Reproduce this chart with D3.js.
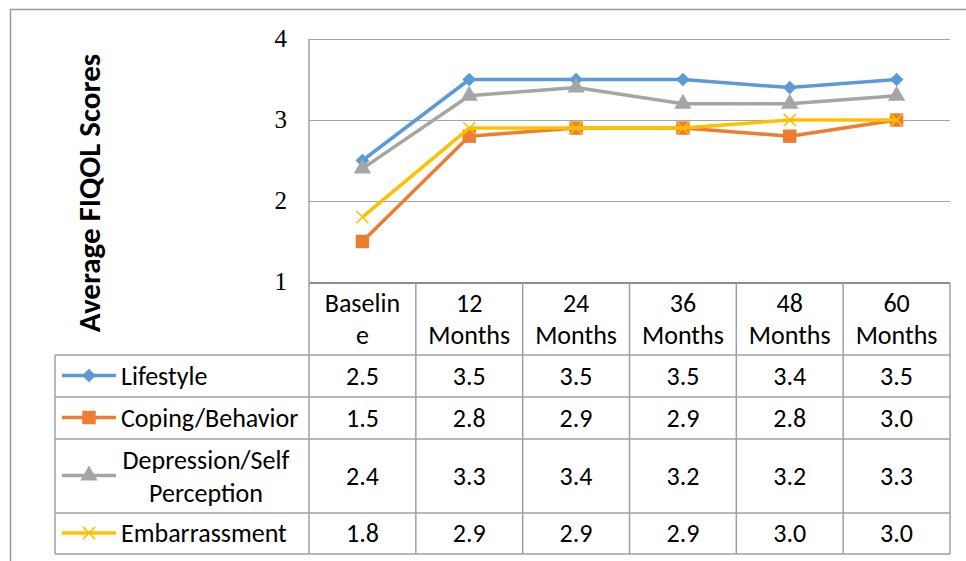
<!DOCTYPE html>
<html>
<head>
<meta charset="utf-8">
<script src="https://cdn.jsdelivr.net/npm/d3@7"></script>
<style>
    body { margin: 0; background: #fff; }
    svg { display: block; }
    text { font-family: Carlito, "Open Sans", sans-serif; fill: #000; }
</style>
</head>
<body>
<div id="chart"></div>
<script>
// column headers, split in the two lines the table shows
const periods = ['Baseline', '12 Months', '24 Months', '36 Months', '48 Months', '60 Months'];
const periodLines = [['Baselin', 'e'], ['12', 'Months'], ['24', 'Months'], ['36', 'Months'], ['48', 'Months'], ['60', 'Months']];
const seriesNames = ['Lifestyle', 'Coping/Behavior', 'Depression/Self Perception', 'Embarrassment'];
const seriesLines = [['Lifestyle'], ['Coping/Behavior'], ['Depression/Self', 'Perception'], ['Embarrassment']];
const lifestyle = [2.5, 3.5, 3.5, 3.5, 3.4, 3.5];
const coping = [1.5, 2.8, 2.9, 2.9, 2.8, 3.0];
const depression = [2.4, 3.3, 3.4, 3.2, 3.2, 3.3];
const embarrassment = [1.8, 2.9, 2.9, 2.9, 3.0, 3.0];
const yTicks = [1, 2, 3, 4];

const width = 966, height = 561;
const colors = ['#5b9bd5', '#ed7d31', '#a5a5a5', '#ffc000'];
const symbols = [d3.symbolDiamond2, d3.symbolSquare, d3.symbolTriangle, d3.symbolTimes];
const symbolSizes = [120, 180, 130, 100];
const allValues = [lifestyle, coping, depression, embarrassment];

const svg = d3.select('#chart').append('svg')
    .attr('width', width)
    .attr('height', height);

// outer chart frame (runs off the right and bottom)
svg.append('path')
    .attr('d', 'M10.5,' + height + 'V9.5H' + width)
    .attr('fill', 'none')
    .attr('stroke', '#9a9a9a')
    .attr('stroke-width', 1.5);

const x = d3.scaleBand().domain(periods).range([309, 950]).padding(0);
const y = d3.scaleLinear().domain([1, 4]).range([282, 39]);
const cx = d => x(d) + x.bandwidth() / 2;

// gridlines
svg.append('g').selectAll('line')
    .data(yTicks.filter(t => t > 1))
    .join('line')
    .attr('x1', 309).attr('x2', 950)
    .attr('y1', d => y(d) + 0.5).attr('y2', d => y(d) + 0.5)
    .attr('stroke', '#a6a6a6')
    .attr('stroke-width', 1.2);

// y axis tick labels
svg.append('g').selectAll('text')
    .data(yTicks)
    .join('text')
    .attr('x', 287)
    .attr('y', d => y(d))
    .attr('dy', '0.33em')
    .attr('text-anchor', 'end')
    .style('font-family', '"Liberation Serif", "Times New Roman", serif')
    .style('font-size', '25px')
    .text(d => d);

// y axis title
svg.append('text')
    .attr('transform', 'translate(100,193) rotate(-90)')
    .attr('text-anchor', 'middle')
    .style('font-weight', 'bold')
    .style('font-size', '31px')
    .text('Average FIQOL Scores');

// data table
const rowEdges = [355, 397, 439, 513, 554];
const table = svg.append('g')
    .attr('fill', 'none')
    .attr('stroke', '#a0a0a0')
    .attr('stroke-width', 1.5);

// plot floor / header top
table.append('line')
    .attr('x1', 309).attr('x2', 950)
    .attr('y1', y(1) + 1).attr('y2', y(1) + 1)
    .attr('stroke', '#8c8c8c').attr('stroke-width', 2);
// plot left edge down through header
table.append('line')
    .attr('x1', 309).attr('x2', 309)
    .attr('y1', y(4)).attr('y2', 554);
// column separators in header and body
table.selectAll('.col')
    .data(periods.slice(1).concat(['end']))
    .join('line')
    .attr('class', 'col')
    .attr('x1', d => d === 'end' ? 950 : x(d))
    .attr('x2', d => d === 'end' ? 950 : x(d))
    .attr('y1', y(1) + 1).attr('y2', 554);
table.append('line')
    .attr('x1', 55).attr('x2', 55)
    .attr('y1', 355).attr('y2', 554);
table.selectAll('.row')
    .data(rowEdges)
    .join('line')
    .attr('class', 'row')
    .attr('x1', 55).attr('x2', 950)
    .attr('y1', d => d).attr('y2', d => d);

// header labels
const header = svg.append('g').style('font-size', '26px');
periods.forEach(function (p, i) {
    header.append('text')
        .attr('x', cx(p))
        .attr('text-anchor', 'middle')
        .selectAll('tspan')
        .data(periodLines[i])
        .join('tspan')
        .attr('x', cx(p))
        .attr('y', (d, j) => 312 + j * 32)
        .text(d => d);
});

// table rows: legend key, name, values
const lineGen = d3.line()
    .x((d, i) => cx(periods[i]))
    .y(d => y(d));

seriesNames.forEach(function (name, s) {
    const top = rowEdges[s], bottom = rowEdges[s + 1];
    const mid = (top + bottom) / 2;
    const row = svg.append('g').style('font-size', '26px');

    row.append('line')
        .attr('x1', 62).attr('x2', 116)
        .attr('y1', mid - 0.5).attr('y2', mid - 0.5)
        .attr('stroke', colors[s])
        .attr('stroke-width', 3.5);
    row.append('path')
        .attr('transform', 'translate(89,' + (mid - 0.5) + ')')
        .attr('d', d3.symbol(symbols[s], symbolSizes[s])())
        .attr('fill', s === 3 ? 'none' : colors[s])
        .attr('stroke', s === 3 ? colors[s] : 'none')
        .attr('stroke-width', 1.5);

    const lines = seriesLines[s];
    if (lines.length === 1) {
        row.append('text')
            .attr('x', 121).attr('y', mid)
            .attr('dy', '0.33em')
            .text(lines[0]);
    } else {
        row.append('text')
            .attr('text-anchor', 'middle')
            .selectAll('tspan')
            .data(lines)
            .join('tspan')
            .attr('x', 206)
            .attr('y', (d, j) => mid - 16 + j * 33)
            .attr('dy', '0.33em')
            .text(d => d);
    }

    row.selectAll('.val')
        .data(allValues[s])
        .join('text')
        .attr('class', 'val')
        .attr('x', (d, i) => cx(periods[i]))
        .attr('y', mid)
        .attr('dy', '0.33em')
        .attr('text-anchor', 'middle')
        .text(d => d.toFixed(1));
});

// series lines and markers
allValues.forEach(function (values, s) {
    const g = svg.append('g');
    g.append('path')
        .attr('d', lineGen(values))
        .attr('fill', 'none')
        .attr('stroke', colors[s])
        .attr('stroke-width', 3.5)
        .attr('stroke-linejoin', 'round');
    g.selectAll('path.mark')
        .data(values)
        .join('path')
        .attr('class', 'mark')
        .attr('transform', (d, i) => 'translate(' + cx(periods[i]) + ',' + y(d) + ')')
        .attr('d', d3.symbol(symbols[s], symbolSizes[s])())
        .attr('fill', s === 3 ? 'none' : colors[s])
        .attr('stroke', s === 3 ? colors[s] : 'none')
        .attr('stroke-width', 1.5);
});
</script>
</body>
</html>
